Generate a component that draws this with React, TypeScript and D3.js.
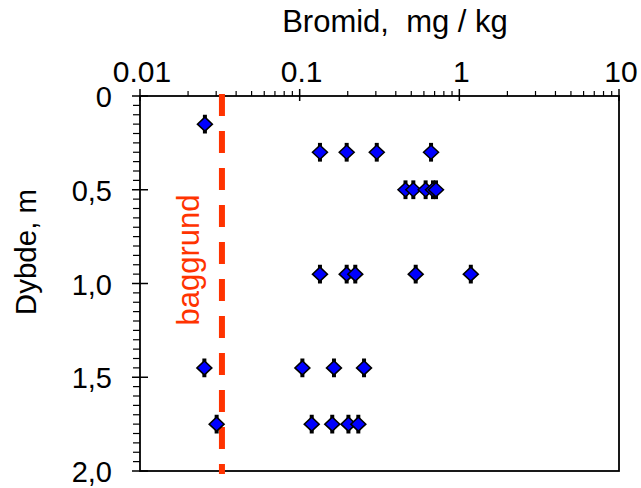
import React from "react";
import * as d3 from "d3";

// Bromide concentrations (mg/kg) for each sampled depth (m)
const depths = [0.15, 0.3, 0.5, 0.95, 1.45, 1.75];
const bromide015 = [0.0255];
const bromide030 = [0.134, 0.197, 0.304, 0.665];
const bromide050 = [0.46, 0.515, 0.615, 0.684, 0.714];
const bromide095 = [0.134, 0.197, 0.223, 0.533, 1.18];
const bromide145 = [0.0253, 0.104, 0.164, 0.253];
const bromide175 = [0.0302, 0.119, 0.16, 0.202, 0.233];
const bromideByDepth = [bromide015, bromide030, bromide050, bromide095, bromide145, bromide175];
const depthSpread = 0.05; // sample interval half-height, m
const background = 0.0326; // background bromide level, mg/kg

const xTickValues = [0.01, 0.1, 1, 10];
const xTickLabels = ["0.01", "0.1", "1", "10"];
const yTickValues = [0, 0.5, 1.0, 1.5, 2.0];
const yTickLabels = ["0", "0,5", "1,0", "1,5", "2,0"];

const W = 641;
const H = 488;
const FONT = "Arial, 'Liberation Sans', sans-serif";

export default function App() {
  const x = d3.scaleLog().domain([0.01, 10]).range([140, 619]);
  const y = d3.scaleLinear().domain([0, 2]).range([96, 471]);

  const points = depths.flatMap((d, i) => bromideByDepth[i].map((v) => ({ d, v })));

  // minor log ticks 2..9 in each decade
  const minorX: number[] = [];
  for (let dec = 0.01; dec < 10; dec *= 10) {
    for (let k = 2; k <= 9; k++) minorX.push(dec * k);
  }
  const minorY = d3.range(0, 41).map((i) => i * 0.05).filter((v) => Math.abs(v * 2 - Math.round(v * 2)) > 1e-6);

  const [x0, x1] = x.range();
  const [y0, y1] = y.range();
  const diamond = (cx: number, cy: number) =>
    `M${cx},${cy - 7} L${cx + 7.5},${cy} L${cx},${cy + 7} L${cx - 7.5},${cy} Z`;

  return (
    <svg width={W} height={H} style={{ position: "absolute", left: 0, top: 0, background: "#fff" }}>
      <rect width={W} height={H} fill="#fff" />
      {/* title */}
      <text x={395} y={32} fontFamily={FONT} fontSize={31} textAnchor="middle" fill="#000">
        Bromid,{"\u00a0\u00a0"}mg / kg
      </text>
      {/* y label */}
      <text
        transform={`translate(36,252) rotate(-90)`}
        fontFamily={FONT}
        fontSize={29.5}
        textAnchor="middle"
        fill="#000"
      >
        Dybde, m
      </text>

      {/* x ticks on top axis */}
      {minorX.map((v, i) => (
        <line key={"mx" + i} x1={x(v)} x2={x(v)} y1={y0 - 5} y2={y0} stroke="#000" strokeWidth={1.2} />
      ))}
      {xTickValues.map((v, i) => (
        <g key={"x" + i}>
          <line x1={x(v)} x2={x(v)} y1={y0 - 7} y2={y0 + 5} stroke="#000" strokeWidth={1.5} />
          <text x={x(v) + 2} y={82} fontFamily={FONT} fontSize={30} textAnchor="middle" fill="#000">
            {xTickLabels[i]}
          </text>
        </g>
      ))}

      {/* y ticks on left axis */}
      {minorY.map((v, i) => (
        <line key={"my" + i} x1={x0 - 7} x2={x0} y1={y(v)} y2={y(v)} stroke="#000" strokeWidth={1.2} />
      ))}
      {yTickValues.map((v, i) => (
        <g key={"y" + i}>
          <line x1={x0 - 8} x2={x0 + 8} y1={y(v)} y2={y(v)} stroke="#000" strokeWidth={1.5} />
          <text x={112} y={y(v) + 11} fontFamily={FONT} fontSize={29} textAnchor="end" fill="#000">
            {yTickLabels[i]}
          </text>
        </g>
      ))}

      {/* frame */}
      <rect x={x0} y={y0} width={x1 - x0} height={y1 - y0} fill="none" stroke="#000" strokeWidth={1.8} />

      {/* background level */}
      <line
        x1={x(background)}
        x2={x(background)}
        y1={y0 - 2}
        y2={y1 + 3}
        stroke="#ff3300"
        strokeWidth={6}
        strokeDasharray="22 15"
      />
      <text
        transform={`translate(199,260) rotate(-90)`}
        fontFamily={FONT}
        fontSize={31}
        textAnchor="middle"
        fill="#ff3300"
      >
        baggrund
      </text>

      {/* sample depth intervals */}
      {points.map((p, i) => (
        <line
          key={"e" + i}
          x1={x(p.v)}
          x2={x(p.v)}
          y1={y(p.d - depthSpread)}
          y2={y(p.d + depthSpread)}
          stroke="#000"
          strokeWidth={4}
        />
      ))}
      {points.map((p, i) => (
        <path key={"p" + i} d={diamond(x(p.v), y(p.d))} fill="#0000ff" stroke="#000" strokeWidth={1.5} />
      ))}
    </svg>
  );
}
